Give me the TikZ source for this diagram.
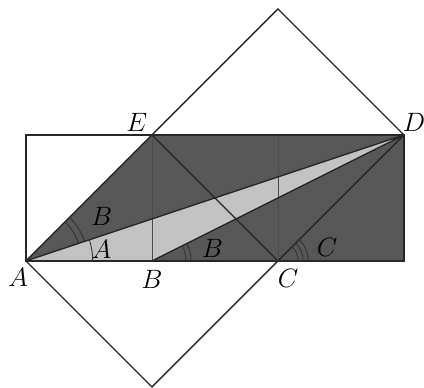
\documentclass[tikz,border=0pt]{standalone}
\begin{document}
\begin{tikzpicture}[x=2cm,y=2cm,
    dark/.style={fill=black!66},
    light/.style={fill=black!24},
    edge/.style={line width=0.6pt, black!85},
    anglearc/.style={line width=0.4pt, black!80},
    every node/.style={font=\large}]
    \useasboundingbox (-0.206,-1.008) rectangle (3.159,2.071);
    % taskai
    \coordinate (A) at (0,0);
    \coordinate (B) at (1,0);
    \coordinate (C) at (2,0);
    \coordinate (R) at (3,0);
    \coordinate (D) at (3,1);
    \coordinate (E) at (1,1);
    \coordinate (F) at (2,1);
    \coordinate (T) at (2,2);
    \coordinate (S) at (1,-1);
    % uzpildai
    \fill[dark] (A) -- (E) -- (D) -- cycle;
    \fill[dark] (B) -- (R) -- (D) -- cycle;
    \fill[light] (A) -- (B) -- (D) -- cycle;
    \draw[thin, black!70] (B) -- (E) (C) -- (F);
    % linijos
    \draw[edge] (A) rectangle (D);
    \draw[edge] (A) -- (E) (A) -- (D) (B) -- (D) (E) -- (C) (C) -- (D);
    \draw[edge] (A) -- (S) -- (C) (E) -- (T) -- (D);
    % kampai
    \draw[anglearc] (0:0.53) arc[start angle=0, end angle=18.43, radius=0.53];
    \foreach \r in {0.44,0.49} {
        \draw[anglearc] (18.43:\r) arc[start angle=18.43, end angle=45, radius=\r];
    }
    \foreach \r in {0.27,0.31} {
        \draw[anglearc] ([shift={(B)}]0:\r) arc[start angle=0, end angle=26.57, radius=\r];
    }
    \foreach \r in {0.16,0.2,0.24} {
        \draw[anglearc] ([shift={(C)}]0:\r) arc[start angle=0, end angle=45, radius=\r];
    }
    \node (aA) at (0.60,0.09) {$A$};
    \node (aB) at (0.60,0.35) {$B$};
    \node (bB) at (1.48,0.10) {$B$};
    \node (cC) at (2.39,0.11) {$C$};
    % raides
    \node (lA) at (-0.063,-0.127) {$A$};
    \node (lB) at (1,-0.15) {$B$};
    \node (lC) at (2.08,-0.135) {$C$};
    \node (lE) at (0.88,1.10) {$E$};
    \node (lD) at (3.08,1.10) {$D$};
\end{tikzpicture}
\end{document}
